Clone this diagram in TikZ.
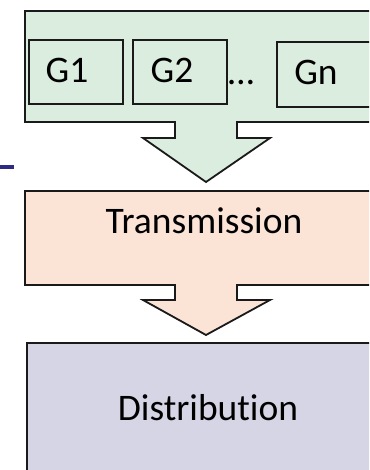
\documentclass[tikz,border=0pt]{standalone}
\usepackage{fontspec}
\setmainfont[Ligatures=CommonOff]{Carlito}
\definecolor{genfill}{HTML}{DAEDDF}
\definecolor{transfill}{HTML}{FBE4D6}
\definecolor{distfill}{HTML}{D6D5E5}
\definecolor{edge}{HTML}{1A1A1A}
\definecolor{markblue}{HTML}{2E2C82}
\begin{document}
\begin{tikzpicture}[x=1pt,y=-1pt,
  stage/.style={draw=edge,line width=1.8pt,line join=miter},
  genbox/.style={draw=edge,line width=1.3pt,fill=genfill},
  label/.style={font=\fontsize{37.5}{42}\selectfont,anchor=base,inner sep=0pt}]
\useasboundingbox (0,0) rectangle (369,470);
\clip (0,0) rectangle (369,470);
% generation stage with its down arrow
\draw[stage,fill=genfill] (25,11) -- (385,11) -- (385,122) -- (237,122) -- (237,138)
  -- (270,138) -- (206,182) -- (143,138) -- (175,138) -- (175,122) -- (25,122) -- cycle;
% individual generators
\draw[genbox] (29,40) rectangle (123,104);
\draw[genbox] (133,40) rectangle (227,104);
\draw[genbox] (277,42) rectangle (380,107);
\node[label] (g1) at (67,83) {G1};
\node[label] (g2) at (172,83) {G2};
\node[label] (dots) at (241,85) {…};
\node[label] (gn) at (316,85) {Gn};
% transmission stage with its down arrow
\draw[stage,fill=transfill] (25,191) -- (385,191) -- (385,285) -- (237,285) -- (237,300)
  -- (270,300) -- (206,335) -- (143,300) -- (175,300) -- (175,285) -- (25,285) -- cycle;
\node[label] (trans) at (204,233) {Transmission};
% distribution stage
\draw[stage,fill=distfill] (27,343) rectangle (385,480);
\node[label] (dist) at (208,420) {Distribution};
% stray mark at the left edge
\draw[markblue,line width=3.5pt] (0,167) -- (14,167);
\end{tikzpicture}
\end{document}
